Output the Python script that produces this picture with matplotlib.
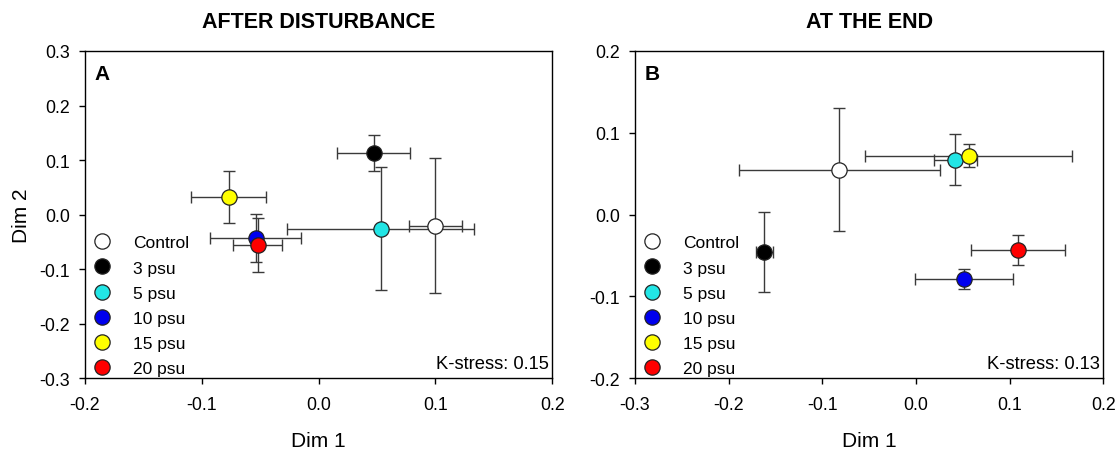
import matplotlib
matplotlib.use("Agg")
import matplotlib.pyplot as plt
from matplotlib.lines import Line2D

plt.rcParams['font.family'] = ['Liberation Sans', 'DejaVu Sans']

groups = ["Control", "3 psu", "5 psu", "10 psu", "15 psu", "20 psu"]
colors = ["white", "black", "#22e5e5", "#0000ee", "#ffff00", "#ff0000"]

# panel A - after disturbance
a_x = [0.100, 0.047, 0.053, -0.054, -0.077, -0.052]
a_y = [-0.020, 0.113, -0.026, -0.043, 0.032, -0.056]
a_xerr = [0.023, 0.031, 0.080, 0.039, 0.032, 0.021]
a_yerr = [0.124, 0.033, 0.113, 0.044, 0.048, 0.049]

# panel B - at the end
b_x = [-0.082, -0.162, 0.042, 0.051, 0.056, 0.109]
b_y = [0.055, -0.046, 0.067, -0.079, 0.072, -0.043]
b_xerr = [0.107, 0.009, 0.023, 0.052, 0.110, 0.050]
b_yerr = [0.075, 0.049, 0.031, 0.012, 0.014, 0.018]

fig = plt.figure(figsize=(11.18, 4.52), dpi=100)
axA = fig.add_axes([0.076, 0.161, 0.418, 0.724])
axB = fig.add_axes([0.568, 0.161, 0.419, 0.724])


def draw_panel(ax, xs, ys, xerr, yerr, letter, stress, xlim, ylim, xticks, yticks):
    for i in range(len(groups)):
        ax.errorbar(xs[i], ys[i], xerr=xerr[i], yerr=yerr[i], fmt='none',
                    ecolor='#3a3a3a', elinewidth=1.0, capsize=4.5, capthick=1.0, zorder=2)
    for i in range(len(groups)):
        ax.plot(xs[i], ys[i], 'o', ms=11, mfc=colors[i], mec='#222222', mew=0.9, zorder=3)
    ax.set_xlim(xlim)
    ax.set_ylim(ylim)
    ax.set_xticks(xticks)
    ax.set_yticks(yticks)
    ax.set_xticklabels(["%.1f" % t for t in xticks])
    ax.set_yticklabels(["%.1f" % t for t in yticks])
    ax.tick_params(direction='out', length=4, width=1, labelsize=12.8, top=False, right=False)
    ax.tick_params(axis='x', pad=9)
    ax.tick_params(axis='y', pad=7)
    for sp in ax.spines.values():
        sp.set_linewidth(1.0)
    ax.text(0.02, 0.96, letter, transform=ax.transAxes, fontsize=15, fontweight='bold',
            va='top', ha='left')
    ax.text(0.992, 0.032, "K-stress: %.2f" % stress, transform=ax.transAxes, fontsize=13.2,
            ha='right', va='baseline')
    handles = [Line2D([], [], ls='none', marker='o', ms=11, mfc=c, mec='#222222', mew=0.9)
               for c in colors]
    ax.legend(handles, groups, loc='lower left', frameon=False, fontsize=12.5,
              handletextpad=0.95, labelspacing=0.58, borderaxespad=0.0,
              bbox_to_anchor=(0.0, -0.005), handlelength=1.6, borderpad=0.2)
    ax.set_xlabel("Dim 1", fontsize=15, labelpad=13)


draw_panel(axA, a_x, a_y, a_xerr, a_yerr, "A", 0.15, (-0.2, 0.2), (-0.3, 0.3),
           [-0.2, -0.1, 0.0, 0.1, 0.2], [-0.3, -0.2, -0.1, 0.0, 0.1, 0.2, 0.3])
draw_panel(axB, b_x, b_y, b_xerr, b_yerr, "B", 0.13, (-0.3, 0.2), (-0.2, 0.2),
           [-0.3, -0.2, -0.1, 0.0, 0.1, 0.2], [-0.2, -0.1, 0.0, 0.1, 0.2])

axA.set_ylabel("Dim 2", fontsize=15, labelpad=6)
axA.set_title("AFTER DISTURBANCE", fontsize=15.5, fontweight='bold', pad=17)
axB.set_title("AT THE END", fontsize=15.5, fontweight='bold', pad=17)

fig.savefig("out.png", dpi=100)
